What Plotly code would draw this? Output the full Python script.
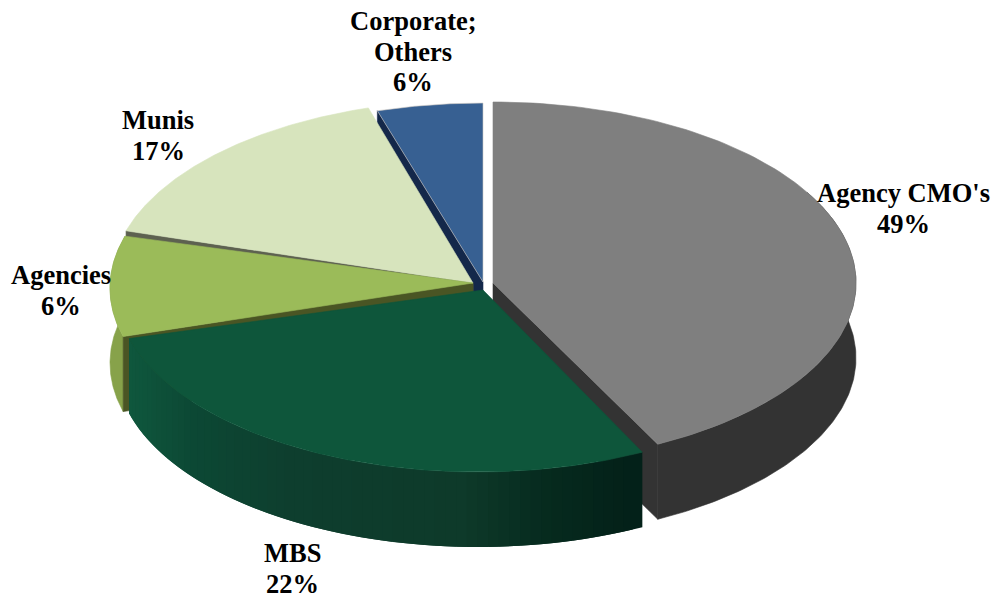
import math
import plotly.graph_objects as go

# Data
categories = ["Agency CMO's", "MBS", "Agencies", "Munis", "Corporate;<br>Others"]
label_percent = [49, 22, 6, 17, 6]          # printed labels
drawn_share = [42.5, 28.2, 8.9, 15.7, 4.7]  # share of the circle each slice actually occupies in the drawing

# Styles
top_colors = ["#7f7f7f", "#0e563b", "#9bbb59", "#d7e4bd", "#376092"]
cut_colors = ["#333333", "#03231a", "#4a5524", "#5d6150", "#14284a"]
rim_colors = ["#333333", None, "#87a24a", None, None]
green_stops = [(130, (15, 88, 62)), (200, (12, 72, 52)), (300, (14, 62, 46)),
               (470, (14, 58, 42)), (560, (6, 42, 30)), (645, (3, 32, 24))]
rim_center = [(493, 283), (478, 290), (473, 288), (474, 283), (483, 283)]
apex = [(493, 283), (483, 290), (473, 283), (473, 283), (483, 282)]
RX = [363, 362, 363, 363, 363]
RY = [181, 182, 182, 183, 180]
DEPTH = 75
LINE_GAP = 30.5
label_xy = [(903, 193), (292, 553), (61, 275), (158, 120), (413, 21)]

bounds = [0.0]
for s in drawn_share:
    bounds.append(bounds[-1] + s * 3.6)


def rim(i, a_deg):
    a = math.radians(a_deg)
    cx, cy = rim_center[i]
    return cx + RX[i] * math.sin(a), cy - RY[i] * math.cos(a)


def arc(i, a0, a1, n=120):
    return [rim(i, a0 + (a1 - a0) * k / n) for k in range(n + 1)]


fig = go.Figure()


def poly(points, color, line=None, lw=0.6):
    fig.add_trace(go.Scatter(
        x=[p[0] for p in points] + [points[0][0]],
        y=[p[1] for p in points] + [points[0][1]],
        mode="lines", fill="toself", fillcolor=color,
        line=dict(color=line or color, width=lw),
        hoverinfo="skip", showlegend=False))


def top(i, line=None):
    poly([apex[i]] + arc(i, bounds[i], bounds[i + 1]), top_colors[i], line)


def cut(i, a):
    p = rim(i, a)
    ax = apex[i]
    poly([ax, p, (p[0], p[1] + DEPTH), (ax[0], ax[1] + DEPTH)], cut_colors[i])


def outer(i, a0, a1, color, n=120, lw=0.6):
    pts = arc(i, a0, a1, n)
    poly(pts + [(x, y + DEPTH) for x, y in reversed(pts)], color, lw=lw)


def green_color(x):
    for (x0, c0), (x1, c1) in zip(green_stops, green_stops[1:]):
        if x <= x1:
            t = max(0, (x - x0) / (x1 - x0))
            return "rgb(%d,%d,%d)" % tuple(round(c0[k] + (c1[k] - c0[k]) * t) for k in range(3))
    return "rgb(%d,%d,%d)" % green_stops[-1][1]


# Back to front
outer(0, bounds[0] + 60, bounds[1], rim_colors[0])
cut(0, bounds[1])
cut(4, bounds[4])
cut(3, bounds[3])
outer(2, bounds[2], bounds[3], rim_colors[2])
cut(2, bounds[2])
top(3)
top(4, line="#cfc9c4")
top(2)
top(0)

# Rim of the MBS slice: each strip overlaps the next one so no seams show
STRIPS = 60
step = (bounds[2] - bounds[1]) / STRIPS
for k in range(STRIPS):
    a0 = bounds[2] - (k + 1) * step
    a1 = bounds[2] - k * step if k == 0 else bounds[2] - (k - 1) * step
    outer(1, a0, a1, green_color(rim(1, a0 + step / 2)[0]), n=4, lw=0)
top(1)

annotations = []
for i in range(5):
    lines = categories[i].split("<br>") + [f"{label_percent[i]}%"]
    for j, text in enumerate(lines):
        annotations.append(dict(
            x=label_xy[i][0], y=label_xy[i][1] + j * LINE_GAP, xref="x", yref="y",
            showarrow=False, text=f"<b>{text}</b>", align="center",
            font=dict(family="Liberation Serif", size=26.5, color="black")))

fig.update_layout(
    width=992, height=598, margin=dict(l=0, r=0, t=0, b=0),
    paper_bgcolor="white", plot_bgcolor="white", showlegend=False,
    annotations=annotations,
    xaxis=dict(range=[0, 992], visible=False, fixedrange=True),
    yaxis=dict(range=[598, 0], visible=False, fixedrange=True),
)
fig.write_html("out.html", post_script="document.body.style.margin='0';",
               config={"displayModeBar": False})
